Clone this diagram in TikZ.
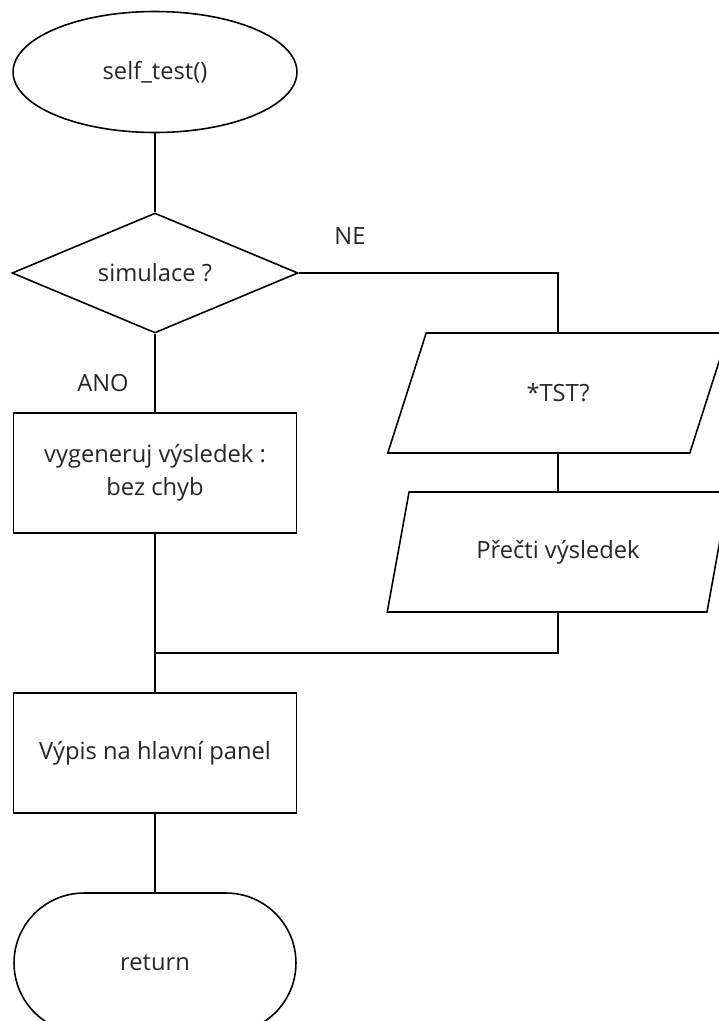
\documentclass[tikz,border=0pt]{standalone}
\usepackage{fontspec}
\setmainfont{Open Sans}
\usepackage{tikz}
\usetikzlibrary{shapes.geometric}
\usetikzlibrary{shapes.misc}

\begin{document}
\begin{tikzpicture}[x=0.02cm, y=-0.02cm, line width=0.9pt,
		every node/.style={font=\fontsize{13.5}{19}\selectfont, text=black!85},
		terminal/.style={draw, ellipse, minimum width=5.68cm, minimum height=2.42cm, inner sep=0pt},
		decision/.style={draw, diamond, aspect=2.4, minimum width=5.72cm, minimum height=2.4cm, inner sep=0pt},
		block/.style={draw, align=center, minimum width=5.66cm, minimum height=2.4cm, inner sep=0pt},
		io/.style={draw, trapezium, trapezium stretches=true, trapezium left angle=63.43, trapezium right angle=116.57,
			minimum width=6.84cm, minimum height=2.4cm, inner sep=0pt},
		stop/.style={draw, rounded rectangle, minimum width=5.64cm, minimum height=2.8cm, inner sep=0pt}
	]
			\useasboundingbox (0,0) rectangle (718,1021);

			\node[terminal] (start) at (155,72) {self\_test()};
			\node[decision] (sim) at (155,273) {simulace ?};
			\node[block] (gen) at (155,473) {vygeneruj výsledek :\\bez chyb};
			\node[io] (tst) at (558,393) {*TST?};
			\node[io] (read) at (558,552) {Přečti výsledek};
			\node[block] (out) at (155,753) {Výpis na hlavní panel};
			\node[stop] (ret) at (155,963) {return};

			\node (ne) at (350,236) {NE};
			\node (ano) at (103,383) {ANO};

			\coordinate (join) at (155,653);

			\draw (start) -- (sim);
			\draw (sim) -- (gen);
			\draw (sim.east) -| (tst.north);
			\draw (tst) -- (read);
			\draw (read.south) |- (join);
			\draw (gen) -- (out);
			\draw (out) -- (ret);
		\end{tikzpicture}
\end{document}
